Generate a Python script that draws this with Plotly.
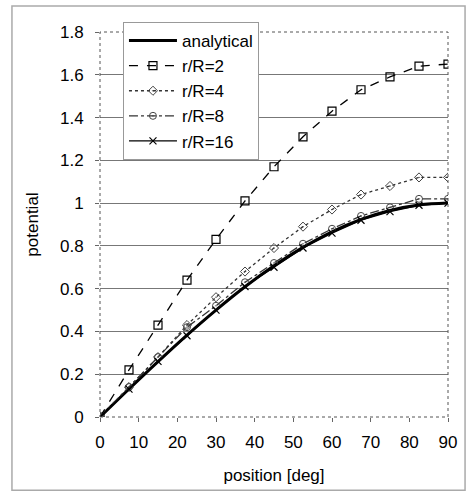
import plotly.graph_objects as go

position = [0, 7.5, 15, 22.5, 30, 37.5, 45, 52.5, 60, 67.5, 75, 82.5, 90]
analytical = [0, 0.131, 0.259, 0.383, 0.500, 0.609, 0.707, 0.793, 0.866, 0.924, 0.966, 0.991, 1.0]
r2 = [0, 0.22, 0.43, 0.64, 0.83, 1.01, 1.17, 1.31, 1.43, 1.53, 1.59, 1.64, 1.65]
r4 = [0, 0.14, 0.28, 0.43, 0.56, 0.68, 0.79, 0.89, 0.97, 1.04, 1.08, 1.12, 1.12]
r8 = [0, 0.14, 0.28, 0.42, 0.52, 0.63, 0.72, 0.81, 0.88, 0.94, 0.98, 1.02, 1.02]
r16 = [0, 0.13, 0.26, 0.38, 0.50, 0.61, 0.70, 0.79, 0.86, 0.92, 0.96, 0.99, 1.0]

fig = go.Figure()
fig.add_trace(go.Scatter(x=position, y=analytical, name="analytical", mode="lines",
                         line=dict(color="black", width=3, shape="spline")))
fig.add_trace(go.Scatter(x=position, y=r2, name="r/R=2", mode="lines+markers",
                         line=dict(color="black", width=1.3, dash="dash"),
                         marker=dict(symbol="square-open", size=8, color="black", line=dict(width=1.2))))
fig.add_trace(go.Scatter(x=position, y=r4, name="r/R=4", mode="lines+markers",
                         line=dict(color="#333", width=1.3, dash="dot"),
                         marker=dict(symbol="diamond-open-dot", size=7, color="#444", line=dict(width=1))))
fig.add_trace(go.Scatter(x=position, y=r8, name="r/R=8", mode="lines+markers",
                         line=dict(color="#333", width=1.3, dash="dashdot"),
                         marker=dict(symbol="circle-open-dot", size=7, color="#444", line=dict(width=1))))
fig.add_trace(go.Scatter(x=position, y=r16, name="r/R=16", mode="lines+markers",
                         line=dict(color="black", width=1.3),
                         marker=dict(symbol="x-thin-open", size=7, color="black", line=dict(width=1.2, color="black"))))

fig.update_layout(
    width=474, height=493,
    margin=dict(l=100, r=26, t=32, b=76),
    paper_bgcolor="white", plot_bgcolor="white",
    font=dict(family="Liberation Sans, Arial", size=17, color="black"),
    showlegend=True,
    legend=dict(x=0.066, y=1.026, xanchor="left", yanchor="top",
                bgcolor="white", bordercolor="#999", borderwidth=1,
                font=dict(size=17), tracegroupgap=0, itemwidth=48),
    xaxis=dict(range=[0, 90], tickvals=[0, 10, 20, 30, 40, 50, 60, 70, 80, 90],
               showgrid=False, zeroline=False, ticks="outside", ticklen=4,
               tickcolor="#666", ticklabelstandoff=6,
               title=dict(text="position [deg]", font=dict(size=17), standoff=17),
               tickfont=dict(size=17)),
    yaxis=dict(range=[0, 1.8], tickvals=[0, 0.2, 0.4, 0.6, 0.8, 1, 1.2, 1.4, 1.6, 1.8],
               ticktext=["0", "0.2", "0.4", "0.6", "0.8", "1", "1.2", "1.4", "1.6", "1.8"],
               showgrid=True, gridcolor="#777", gridwidth=1, zeroline=False,
               ticks="outside", ticklen=4, tickcolor="#666", ticklabelstandoff=8,
               title=dict(text="potential", font=dict(size=17), standoff=17),
               tickfont=dict(size=17)),
)
fig.add_shape(type="rect", xref="paper", yref="paper", x0=0, y0=0, x1=1, y1=1,
              line=dict(color="#555", width=1, dash="dot"), layer="above")
fig.add_shape(type="rect", xref="paper", yref="paper", x0=-0.253, y0=-0.19, x1=1.049, y1=1.0675,
              line=dict(color="#aaa", width=1.5))
fig.write_html("out.html")
